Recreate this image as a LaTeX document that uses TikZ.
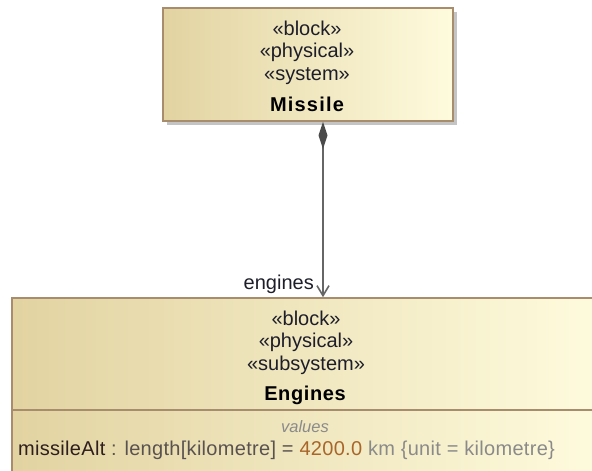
\documentclass[tikz,border=0pt]{standalone}
\usepackage{fontspec}
\setmainfont{Liberation Sans}
\usetikzlibrary{arrows.meta,calc}

\definecolor{blockleft}{HTML}{E2D3A1}
\definecolor{blockright}{HTML}{FEFBDD}
\definecolor{blockedge}{HTML}{A88C6E}
\definecolor{shadowgray}{HTML}{C4C4C4}
\definecolor{linkgray}{HTML}{666666}
\definecolor{diamondgray}{HTML}{4A4A4A}
\definecolor{stereotext}{HTML}{1E1E2A}
\definecolor{attrname}{HTML}{2E1E1E}
\definecolor{attrtype}{HTML}{5A5250}
\definecolor{attrvalue}{HTML}{A8662A}
\definecolor{attrunit}{HTML}{8A8A8A}

\tikzset{
  x=1pt, y=-1pt,
  block/.style={rectangle, draw=blockedge, line width=1.6pt,
    left color=blockleft, right color=blockright, inner sep=0pt},
  shadowbox/.style={fill=shadowgray},
  stereo/.style={font=\fontsize{20}{23}\selectfont, text=stereotext,
    anchor=base, inner sep=0pt},
  blockname/.style={font=\fontsize{20}{23}\selectfont\bfseries, text=black,
    anchor=base, inner sep=0pt},
  compartment/.style={font=\fontsize{16.5}{18}\selectfont\itshape, text=attrunit,
    anchor=base, inner sep=0pt},
  attr/.style={font=\fontsize{20}{23}\selectfont\addfontfeature{LetterSpace=1.5},
    anchor=base west, inner sep=0pt},
  composition/.style={draw=linkgray, line width=1.6pt,
    {Diamond[length=27pt,width=9pt,fill=diamondgray,color=diamondgray]}-{Straight Barb[length=10pt,width=12pt,color=linkgray]}},
  rolelabel/.style={font=\fontsize{20}{23}\selectfont, text=stereotext,
    anchor=base east, inner sep=0pt}
}

\begin{document}
\begin{tikzpicture}
\useasboundingbox (0,0) rectangle (592,471);
\clip (0,0) rectangle (592,471);
\fill[white] (0,0) rectangle (592,471);

% Missile block with its drop shadow
\fill[shadowbox] (167,12) rectangle (457,125);
\node[block, minimum width=290pt, minimum height=113pt] (missile) at (308,64.5) {};
\node[stereo] (m1) at (307,35) {«block»};
\node[stereo] (m2) at (307,57.5) {«physical»};
\node[stereo] (m3) at (307,80) {«system»};
\node[blockname] (m4) at (307,111) {\addfontfeature{LetterSpace=6}Missile};

% Engines block, running past the right and lower edges
\node[block, minimum width=588pt, minimum height=190pt] (engines) at (306,393) {};
\draw[blockedge, line width=1.6pt] (engines.west |- 0,410) -- (engines.east |- 0,410);
\node[stereo] (e1) at (306,325) {«block»};
\node[stereo] (e2) at (306,347.5) {«physical»};
\node[stereo] (e3) at (306,370) {«subsystem»};
\node[blockname] (e4) at (305,400) {\addfontfeature{LetterSpace=3}Engines};
\node[compartment] (vals) at (305,432) {values};
\node[attr] (alt) at (18,455) {\textcolor{attrname}{missileAlt}\textcolor{attrtype}{\ : length[kilometre] =\ }\textcolor{attrvalue}{4200.0}\textcolor{attrunit}{\ km \{unit = kilometre\}}};

% Composite association Missile -> Engines
\draw[composition] ([xshift=15pt]missile.south) -- ([xshift=15pt]missile.south |- engines.north);
\node[rolelabel] (role) at (314,289) {engines};
\end{tikzpicture}
\end{document}
